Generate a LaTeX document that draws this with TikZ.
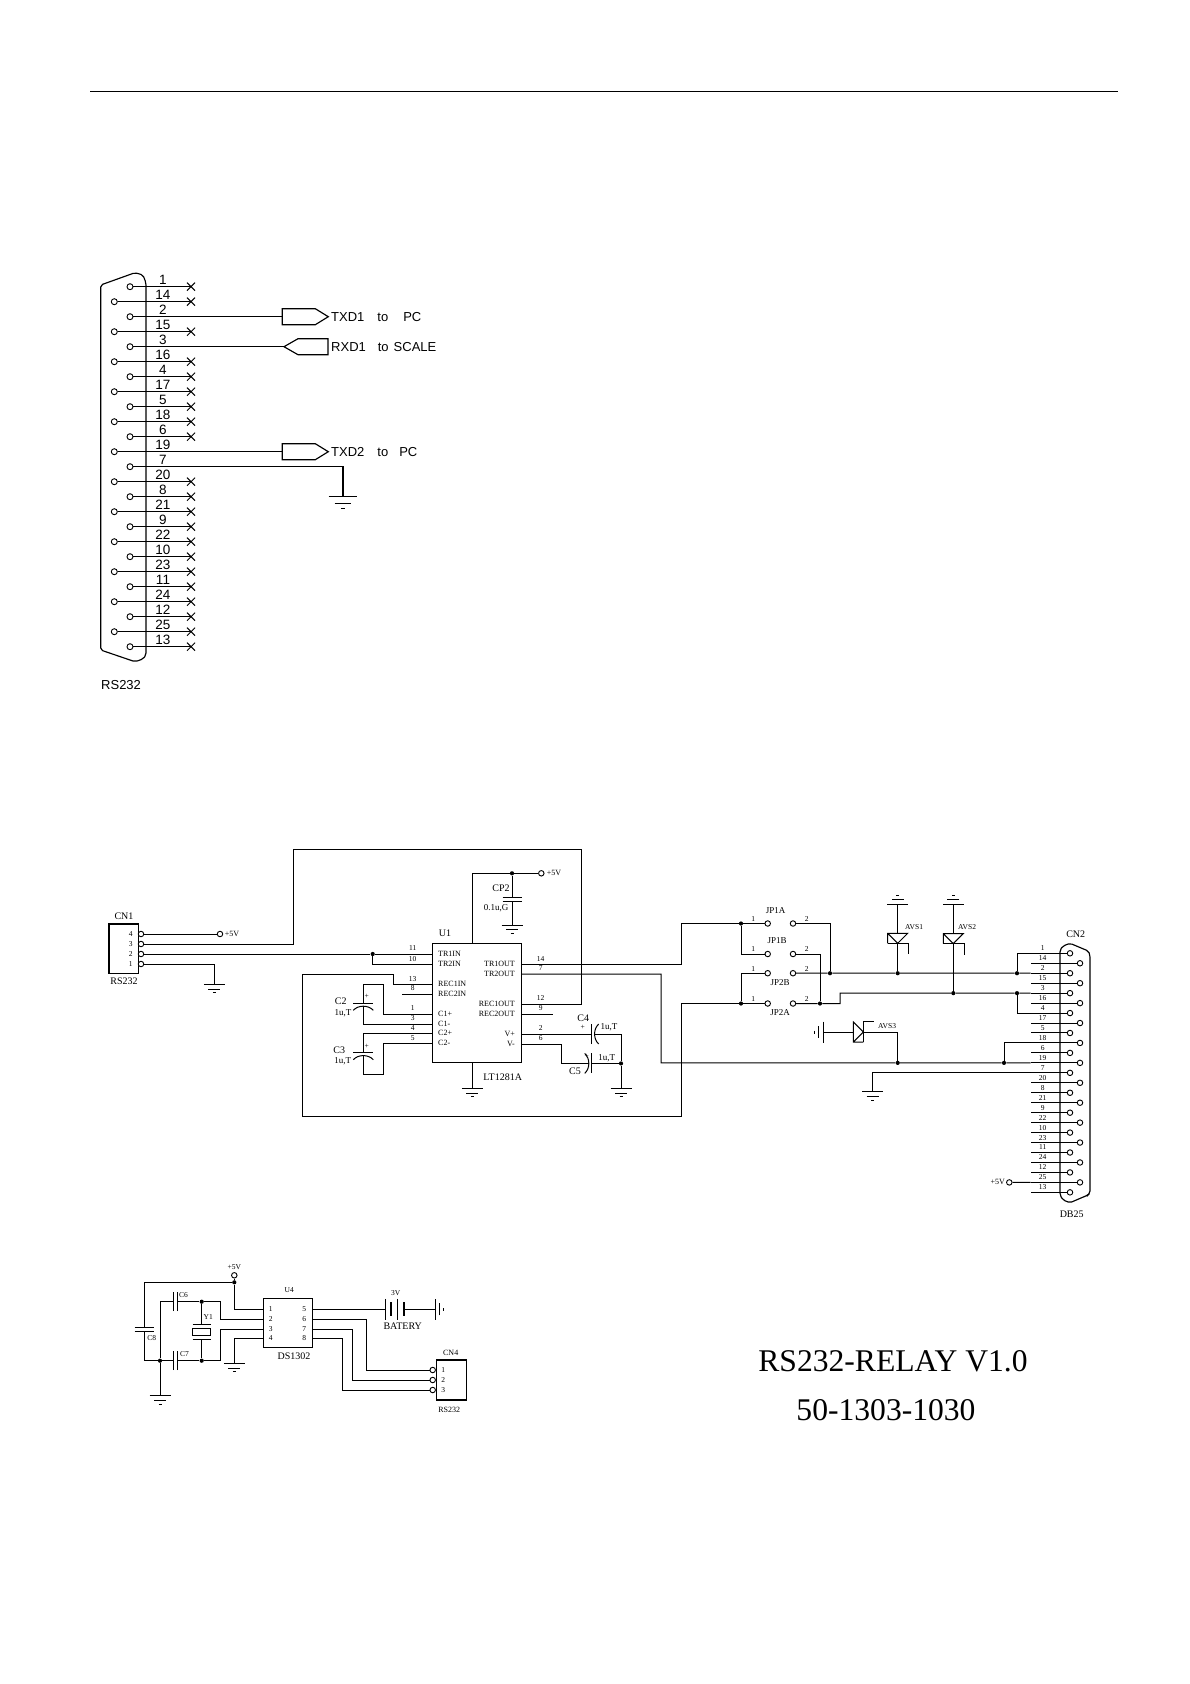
\documentclass[tikz,border=0pt]{standalone}
\usepackage{fontspec}
\setmainfont{Liberation Serif}
\newfontfamily\arialfont{Liberation Sans}
\usetikzlibrary{calc}
\usetikzlibrary{shapes.misc}
\tikzset{
  wire/.style={line width=1pt,line join=miter},
  thickwire/.style={line width=1.15pt},
  pinc/.style={circle,draw,line width=0.9pt,fill=white,inner sep=0pt,minimum size=6pt},
  dotj/.style={circle,fill=black,inner sep=0pt,minimum size=4.2pt},
  xmark/.style={cross out,draw,line width=1pt,inner sep=0pt,minimum size=7pt},
  chipbox/.style={rectangle,draw,line width=1.1pt,inner sep=0pt},
  sanslab/.style={font=\arialfont\fontsize{13.5}{14}\selectfont,inner sep=0pt},
  sanstxt/.style={font=\arialfont\fontsize{13}{14}\selectfont,inner sep=0pt,anchor=west},
  lab/.style={font=\fontsize{10}{11}\selectfont,inner sep=0pt},
  pinlab/.style={font=\fontsize{8}{9}\selectfont,inner sep=0pt},
  numlab/.style={font=\fontsize{7.5}{8}\selectfont,inner sep=0pt},
  biglab/.style={font=\fontsize{31.6}{34}\selectfont,inner sep=0pt},
  gnd/.pic={
    \coordinate (-t) at (0,0);
    \draw [wire] (-10.5,0) -- (10.5,0) (-6,4.7) -- (6,4.7) (-1.5,8.6) -- (1.5,8.6);
  },
  capp/.pic={
    \coordinate (-a) at (0,-2.2);
    \coordinate (-b) at (0,2.2);
    \draw [wire] (-9.5,-2.2) -- (9.5,-2.2) (-9.5,2.2) -- (9.5,2.2);
  },
  pcap/.pic={
    \coordinate (-a) at (0,0);
    \coordinate (-b) at (0,2.5);
    \draw [wire] (-10,0) -- (10,0);
    \draw [wire] (-10,7) .. controls (-5,1.5) and (5,1.5) .. (10,7);
  },
  xtal/.pic={
    \coordinate (-a) at (0,-7.7);
    \coordinate (-b) at (0,7.7);
    \draw [wire] (-9.2,-7.7) -- (9.2,-7.7) (-9.2,7.7) -- (9.2,7.7);
    \draw [wire] (-9.2,-3.4) rectangle (9.2,3.4);
  },
  tvs/.pic={
    \coordinate (-a) at (0,-5);
    \coordinate (-k) at (0,5);
    \draw [wire] (-10,5) -- (-10,-5) -- (10,-5) -- (0,5) -- (-10,-5);
    \draw [wire] (-10,5) -- (11,5) -- (11,16);
  },
  batt/.pic={
    \coordinate (-a) at (0,0);
    \coordinate (-b) at (18.3,0);
    \draw [wire] (0,-10.5) -- (0,10.5) (12,-10.5) -- (12,10.5);
    \draw [line width=2pt] (5.3,-7) -- (5.3,7) (18.3,-7) -- (18.3,7);
  },
  portr/.pic={
    \coordinate (-w) at (0,0);
    \draw [thickwire] (0,-8) -- (33,-8) -- (46,0) -- (33,8) -- (0,8) -- cycle;
  },
  portl/.pic={
    \coordinate (-w) at (0,0);
    \draw [thickwire] (0,0) -- (14,-8) -- (44,-8) -- (44,8) -- (14,8) -- cycle;
  }
}
\begin{document}
\begin{tikzpicture}[x=1pt,y=-1pt]
  \useasboundingbox (0,0) rectangle (1190,1684);

  % Drawing rule on top
  \coordinate (rulea) at (90,91.5);
  \coordinate (ruleb) at (1118,91.5);
  \draw [line width=1.5pt] (rulea) -- (ruleb);%

  % Drawing connector RS232
  \draw [thickwire,rounded corners=2pt] (100.7,285) -- (135,272.7) -- (143,275) -- (146,283) -- (146,655) -- (143,659) -- (135,661.7) -- (100.7,650) -- cycle;%
  \foreach \pinno/\hasx [count=\i from 0] in {1/1,14/1,2/0,15/1,3/0,16/1,4/1,17/1,5/1,18/1,6/1,19/0,7/0,20/1,8/1,21/1,9/1,22/1,10/1,23/1,11/1,24/1,12/1,25/1,13/1}{
    \pgfmathsetmacro{\rowy}{286.7+15*\i}
    \pgfmathsetmacro{\rowx}{isodd(\i)?114.3:130}
    \node (rs\pinno) [pinc] at (\rowx,\rowy) {};
    \node (rslab\pinno) [sanslab] at (163,\rowy-7) {\pinno};
    \ifnum\hasx=1
      \node (rsx\pinno) [xmark] at (191,\rowy) {};
      \draw [thickwire] (rs\pinno) -- (rsx\pinno.center);%
    \fi
  }
  \node (rsname) [sanstxt] at (101,685) {RS232};

  % Drawing ports
  \pic (txd1) at (282.3,316.7) {portr};
  \pic (rxd1) at (284,346.7) {portl};
  \pic (txd2) at (282.3,451.7) {portr};
  \pic (gnd0) [scale=1.38] at (343,496.7) {gnd};
  \draw [thickwire] (rs2) -- (txd1-w);%
  \draw [thickwire] (rs3) -- (rxd1-w);%
  \draw [thickwire] (rs19) -- (txd2-w);%
  \draw [thickwire] (rs7) -| (gnd0-t);%
  \node (txd1lab) [sanstxt] at (331,316.7) {TXD1\hspace{13pt}to\hspace{15pt}PC};
  \node (rxd1lab) [sanstxt] at (331,346.7) {RXD1\hspace{12pt}to\hspace{5pt}SCALE};
  \node (txd2lab) [sanstxt] at (331,451.7) {TXD2\hspace{13pt}to\hspace{11pt}PC};

  % Drawing CN1
  \node (cn1) [chipbox,minimum width=29.3pt,minimum height=49.3pt] at (123.65,948.65) {};
  \node (cn1lab) [lab] at (124,916) {CN1};
  \node (cn1name) [lab] at (124,981.7) {RS232};
  \foreach \pinno/\rowy in {4/934,3/944,2/954,1/964}{
    \node (cn1p\pinno) [pinc,minimum size=5.5pt] at (141,\rowy) {};
    \node (cn1num\pinno) [numlab] at (130.7,\rowy) {\pinno};
  }
  \node (vcc1) [pinc,minimum size=5.5pt] at (220,934) {};
  \node (vcc1lab) [pinlab] at (232,934) {+5V};
  \draw [wire] (cn1p4) -- (vcc1);%

  % Drawing U1
  \node (u1) [chipbox,minimum width=89.4pt,minimum height=119.4pt] at (477,1003) {};
  \node (u1lab) [lab] at (445,933) {U1};
  \node (u1name) [lab] at (502.7,1077) {LT1281A};
  \foreach \pinname/\rowy/\pinno/\txt in {tr1in/954/11/TR1IN,tr2in/964.3/10/TR2IN,rec1in/984.3/13/REC1IN,rec2in/994/8/REC2IN,c1p/1014/1/C1+,c1m/1024/3/C1-,c2p/1033.3/4/C2+,c2m/1043.3/5/C2-}{
    \coordinate (\pinname) at (432.3,\rowy);
    \node (\pinname num) [numlab] at (412.7,\rowy-5.5) {\pinno};
    \node (\pinname lab) [pinlab,anchor=west] at (438,\rowy) {\txt};
  }
  \foreach \pinname/\rowy/\pinno/\txt in {tr1out/964.3/14/TR1OUT,tr2out/974/7/TR2OUT,rec1out/1004/12/REC1OUT,rec2out/1014/9/REC2OUT,vp/1034/2/V+,vm/1044/6/V-}{
    \coordinate (\pinname) at (521.7,\rowy);
    \node (\pinname num) [numlab] at (540.7,\rowy-5.5) {\pinno};
    \node (\pinname lab) [pinlab,anchor=east] at (515,\rowy) {\txt};
  }

  % Drawing wires of CN1 and U1
  \coordinate (p3top) at (293.3,849.3);
  \coordinate (p3down) at (581.7,1004);
  \draw [wire] (cn1p3) -| (p3top) -| (p3down) -- (rec1out);%
  \node (jtr) [dotj] at (372.7,954) {};
  \draw [wire] (cn1p2) -- (jtr) -- (tr1in);%
  \draw [wire] (jtr) |- (tr2in);%
  \pic (gnd1) at (214.3,984.3) {gnd};
  \draw [wire] (cn1p1) -| (gnd1-t);%
  \coordinate (rxb) at (393.3,974);
  \coordinate (rxc) at (302.7,1116.7);
  \coordinate (rxd) at (681.7,1003.5);
  \coordinate (txb) at (681.7,923.5);
  \coordinate (tyb) at (661,1062.86);
  \coordinate (rec2stub) at (402.3,994);
  \coordinate (rec2ostub) at (552.7,1014);
  \draw [wire] (rec2in) -- (rec2stub);%
  \draw [wire] (rec2out) -- (rec2ostub);%

  % Drawing capacitors C2 C3
  \pic (c2) at (363.3,1003.3) {pcap};
  \pic (c3) at (363.3,1052.7) {pcap};
  \coordinate (c2top) at (383.3,984.3);
  \coordinate (c3bot) at (383.3,1074);
  \draw [wire] (c1p) -| (c2top) -| (c2-a);%
  \draw [wire] (c2-b) |- (c1m);%
  \draw [wire] (c2p) -| (c3-a);%
  \draw [wire] (c3-b) |- (c3bot) |- (c2m);%
  \node (c2lab) [lab] at (340.7,1001) {C2};
  \node (c2val) [pinlab,font=\fontsize{9}{10}\selectfont] at (343,1013) {1u,T};
  \node (c2plus) [numlab] at (366.7,996.7) {+};
  \node (c3lab) [lab] at (339.3,1050.7) {C3};
  \node (c3val) [pinlab,font=\fontsize{9}{10}\selectfont] at (342.7,1061.7) {1u,T};
  \node (c3plus) [numlab] at (366.7,1046.7) {+};

  % Drawing supply of U1
  \coordinate (u1top) at (472.3,943.3);
  \coordinate (u1vcc) at (472.3,873.3);
  \coordinate (u1bot) at (472.3,1062.7);
  \node (vcc2) [pinc,minimum size=5.5pt] at (541.3,873.3) {};
  \node (vcc2lab) [pinlab] at (554,873.3) {+5V};
  \node (jcp) [dotj] at (512,873.3) {};
  \draw [wire] (u1top) -- (u1vcc) -- (jcp) -- (vcc2);%
  \pic (cp2) at (512,899.2) {capp};
  \pic (gnd2) at (512,925) {gnd};
  \draw [wire] (jcp) -- (cp2-a);%
  \draw [wire] (cp2-b) -- (gnd2-t);%
  \node (cp2lab) [lab] at (501,888) {CP2};
  \node (cp2val) [pinlab,font=\fontsize{9}{10}\selectfont] at (496,908) {0.1u,G};
  \pic (gnd3) at (472.3,1088.3) {gnd};
  \draw [wire] (u1bot) -- (gnd3-t);%

  % Drawing capacitors C4 C5
  \pic (c4) [rotate=90] at (591.7,1034) {pcap};
  \pic (c5) [rotate=-90] at (591.7,1063.4) {pcap};
  \node (jc5) [dotj] at (621,1063.4) {};
  \coordinate (c4end) at (621,1034);
  \coordinate (vmb) at (561.7,1063.4);
  \pic (gnd4) at (621,1088.3) {gnd};
  \draw [wire] (vp) -- (c4-a);%
  \draw [wire] (c4-b) -- (c4end) -- (jc5) -- (gnd4-t);%
  \draw [wire] (vm) -| (vmb) -- (c5-b);%
  \draw [wire] (c5-a) -- (jc5);%
  \node (c4lab) [lab] at (583.3,1018) {C4};
  \node (c4plus) [numlab] at (582.7,1027) {+};
  \node (c4val) [pinlab,font=\fontsize{9}{10}\selectfont] at (609,1027) {1u,T};
  \node (c5lab) [lab] at (575,1071.7) {C5};
  \node (c5plus) [numlab] at (586.7,1056.7) {+};
  \node (c5val) [pinlab,font=\fontsize{9}{10}\selectfont] at (606.7,1058) {1u,T};

  % Drawing connector CN2
  \draw [thickwire,rounded corners=2pt] (1060,950) -- (1063,946) -- (1070,943.3) -- (1088.3,951) -- (1090,955) -- (1090,1193) -- (1088,1195) -- (1070,1202.7) -- (1063,1200) -- (1060,1195) -- cycle;%
  \foreach \pinno [count=\i from 0] in {1,14,2,15,3,16,4,17,5,18,6,19,7,20,8,21,9,22,10,23,11,24,12,25,13}{
    \pgfmathsetmacro{\rowy}{953.3+9.96*\i}
    \pgfmathsetmacro{\rowx}{isodd(\i)?1080:1070}
    \node (cn2p\pinno) [pinc,minimum size=5.5pt] at (\rowx,\rowy) {};
    \coordinate (cn2s\pinno) at (1030.7,\rowy);
    \node (cn2num\pinno) [numlab] at (1042.7,\rowy-5) {\pinno};
    \draw [wire] (cn2p\pinno) -- (cn2s\pinno);%
  }
  \node (cn2lab) [lab] at (1075.7,934) {CN2};
  \node (cn2name) [lab] at (1071.7,1214) {DB25};
  \node (vcc3) [pinc,minimum size=5.5pt] at (1009.3,1182.4) {};
  \node (vcc3lab) [pinlab,anchor=east] at (1005,1182.4) {+5V};
  \draw [wire] (cn2s25) -- (vcc3);%

  % Drawing jumpers
  \foreach \pinname/\rowy/\txt/\laby/\labx in {jp1a/923.5/JP1A/911/775.7,jp1b/954/JP1B/941/777,jp2b/973.22/JP2B/983/780,jp2a/1003.5/JP2A/1013/780}{
    \node (\pinname l) [pinc,minimum size=5.5pt] at (767.7,\rowy) {};
    \node (\pinname r) [pinc,minimum size=5.5pt] at (793,\rowy) {};
    \node (\pinname lab) [pinlab,font=\fontsize{9}{10}\selectfont] at (\labx,\laby) {\txt};
    \node (\pinname one) [numlab] at (753.3,\rowy-4.5) {1};
    \node (\pinname two) [numlab] at (806.7,\rowy-4.5) {2};
  }
  \node (jp1j) [dotj] at (741,923.5) {};
  \node (jp2j) [dotj] at (741,1003.5) {};
  \node (j830) [dotj] at (830,973.22) {};
  \node (j820) [dotj] at (820,1003.5) {};
  \node (javs1) [dotj] at (897.7,973.22) {};
  \node (javs2) [dotj] at (953.3,993.14) {};
  \node (javs3) [dotj] at (897.7,1062.86) {};
  \node (j1017a) [dotj] at (1017,973.22) {};
  \node (j1017b) [dotj] at (1017,993.14) {};
  \node (j1004) [dotj] at (1004,1062.86) {};
  \coordinate (bupa) at (840,993.14);
  \draw [wire] (tr1out) -| (txb) -- (jp1j) -- (jp1al);%
  \draw [wire] (jp1j) |- (jp1bl);%
  \draw [wire] (rec1in) -| (rxb) -| (rxc) -| (rxd) -- (jp2j) -- (jp2al);%
  \draw [wire] (jp2j) |- (jp2bl);%
  \draw [wire] (jp1ar) -| (j830);%
  \draw [wire] (jp1br) -| (j820);%
  \draw [wire] (jp2ar) -- (j820) -| (bupa) -- (javs2) -- (j1017b) -- (cn2s3);%
  \draw [wire] (jp2br) -- (j830) -- (javs1) -- (j1017a) -- (cn2s2);%
  \draw [wire] (tr2out) -| (tyb) -- (javs3) -- (j1004) -- (cn2s19);%
  \draw [wire] (cn2s1) -| (j1017a);%
  \draw [wire] (cn2s4) -| (j1017b);%
  \draw [wire] (cn2s18) -| (j1004);%
  \pic (gnd7) at (872.7,1091.7) {gnd};
  \draw [wire] (cn2s7) -| (gnd7-t);%

  % Drawing protection diodes
  \pic (avs1) at (897.7,938.3) {tvs};
  \pic (avs2) at (953.3,938.6) {tvs};
  \pic (avs3) [rotate=90] at (858.3,1032) {tvs};
  \pic (gup1) [rotate=180] at (897.7,904) {gnd};
  \pic (gup2) [rotate=180] at (953.3,904) {gnd};
  \pic (glf) [rotate=-90] at (823.3,1032) {gnd};
  \draw [wire] (javs1) -- (avs1-k);%
  \draw [wire] (avs1-a) -- (gup1-t);%
  \draw [wire] (javs2) -- (avs2-k);%
  \draw [wire] (avs2-a) -- (gup2-t);%
  \draw [wire] (glf-t) -- (avs3-a);%
  \draw [wire] (avs3-k) -| (javs3);%
  \node (avs1lab) [numlab,anchor=west] at (905,926.7) {AVS1};
  \node (avs2lab) [numlab,anchor=west] at (958,927) {AVS2};
  \node (avs3lab) [numlab,anchor=west] at (878,1025.7) {AVS3};

  % Drawing U4
  \node (u4) [chipbox,minimum width=49.4pt,minimum height=49.4pt] at (288,1323) {};
  \node (u4lab) [numlab] at (289.3,1290) {U4};
  \node (u4name) [lab] at (294,1356) {DS1302};
  \foreach \pinno/\rowy in {1/1309.3,2/1319,3/1329,4/1338.3}{
    \coordinate (u4l\pinno) at (263.3,\rowy);
    \node (u4n\pinno) [numlab] at (270.7,\rowy) {\pinno};
  }
  \foreach \pinno/\rowy in {5/1309.3,6/1319,7/1329,8/1338.3}{
    \coordinate (u4r\pinno) at (312.7,\rowy);
    \node (u4n\pinno) [numlab] at (304.3,\rowy) {\pinno};
  }

  % Drawing crystal part
  \node (vcc4) [pinc,minimum size=5.5pt] at (234.3,1275.3) {};
  \node (vcc4lab) [numlab] at (234.3,1267.3) {+5V};
  \node (j5v) [dotj] at (234.3,1282.3) {};
  \node (j160) [dotj] at (160,1360.7) {};
  \node (jy1) [dotj] at (201.7,1301.7) {};
  \node (jy2) [dotj] at (201.7,1360.7) {};
  \pic (c8) at (144,1329.5) {capp};
  \pic (c6) [rotate=90] at (175.3,1301.7) {capp};
  \pic (c7) [rotate=90] at (175.3,1360.7) {capp};
  \pic (y1) at (201.7,1331.7) {xtal};
  \pic (gnd5) at (160,1395.7) {gnd};
  \pic (gnd6) at (234.3,1363.3) {gnd};
  \coordinate (ctop) at (220.7,1319);
  \coordinate (cbot) at (220.7,1329);
  \draw [wire] (vcc4) -- (j5v) -| (c8-a);%
  \draw [wire] (j5v) |- (u4l1);%
  \draw [wire] (c8-b) |- (j160) -- (c7-a);%
  \draw [wire] (c7-b) -- (jy2) -| (cbot) -- (u4l3);%
  \draw [wire] (c6-a) -| (j160) -- (gnd5-t);%
  \draw [wire] (c6-b) -- (jy1) -| (ctop) -- (u4l2);%
  \draw [wire] (jy1) -- (y1-a);%
  \draw [wire] (y1-b) -- (jy2);%
  \draw [wire] (u4l4) -| (gnd6-t);%
  \node (c6lab) [numlab,anchor=west] at (179,1295.5) {C6};
  \node (c7lab) [numlab,anchor=west] at (180,1354.5) {C7};
  \node (c8lab) [numlab] at (151.7,1338) {C8};
  \node (y1lab) [numlab] at (208.3,1316.7) {Y1};

  % Drawing battery and CN4
  \pic (bat) at (385.7,1309.3) {batt};
  \pic (gnd8) [rotate=90,yscale=0.95] at (435,1309.3) {gnd};
  \draw [wire] (u4r5) -- (bat-a);%
  \draw [wire] (bat-b) -- (gnd8-t);%
  \node (batv) [numlab] at (395.7,1292.7) {3V};
  \node (batlab) [lab] at (402.7,1326) {BATERY};
  \node (cn4) [chipbox,minimum width=30pt,minimum height=40pt] at (451.7,1380) {};
  \node (cn4lab) [pinlab] at (450.7,1353) {CN4};
  \node (cn4name) [pinlab] at (449.3,1410) {RS232};
  \foreach \pinno/\rowy in {1/1370,2/1380,3/1390}{
    \node (cn4p\pinno) [pinc,minimum size=5.5pt] at (432.7,\rowy) {};
    \node (cn4n\pinno) [numlab] at (443.3,\rowy) {\pinno};
  }
  \coordinate (b6) at (366.7,1370);
  \coordinate (b7) at (352.3,1380);
  \coordinate (b8) at (342.7,1390);
  \draw [wire] (u4r6) -| (b6) -- (cn4p1);%
  \draw [wire] (u4r7) -| (b7) -- (cn4p2);%
  \draw [wire] (u4r8) -| (b8) -- (cn4p3);%

  % Marking board name
  \node (boardname) [biglab] at (893,1361) {RS232-RELAY V1.0};
  \node (boardnum) [biglab] at (886,1410) {50-1303-1030};
\end{tikzpicture}
\end{document}
